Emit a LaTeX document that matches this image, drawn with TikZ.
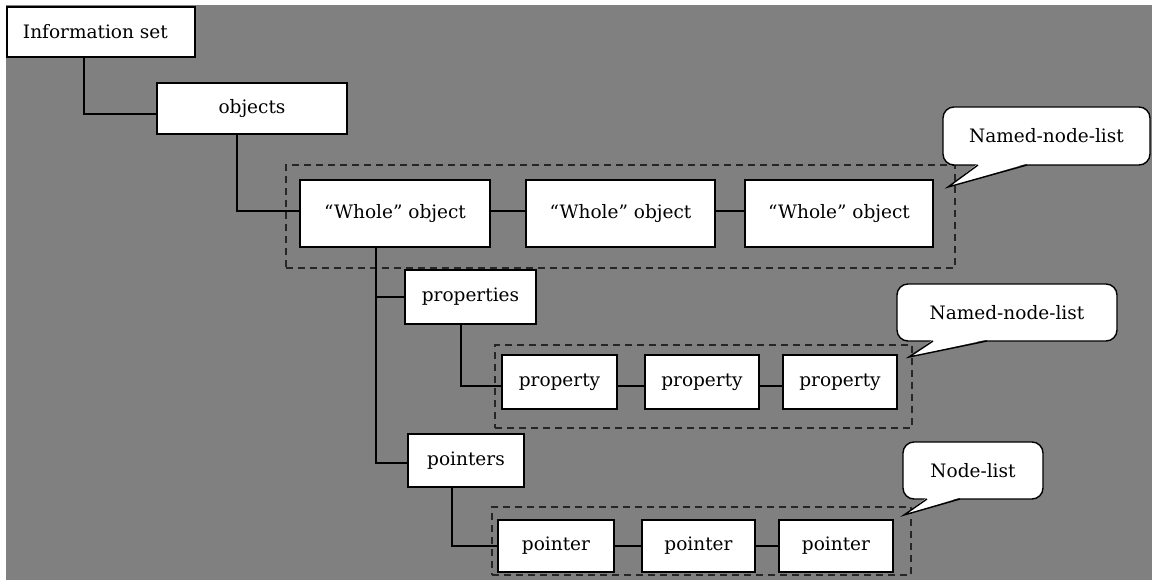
\documentclass[tikz,border=0pt]{standalone}
\usepackage{fontspec}
\setmainfont{DejaVu Serif}
\begin{document}
\begin{tikzpicture}[x=1pt,y=-1pt,
  box/.style={draw=black, fill=white, line width=1.6pt, outer sep=0pt, inner sep=0pt,
    font=\fontsize{18.5}{21}\selectfont},
  groupbox/.style={draw=black!85, dashed, dash pattern=on 7pt off 5pt, line width=1.4pt, outer sep=0pt},
  conn/.style={draw=black, line width=1.8pt},
  callout/.style={draw=black, fill=white, line width=1.4pt, rounded corners=11pt, outer sep=0pt,
    inner sep=0pt, font=\fontsize{18.5}{21}\selectfont},
  tail/.style={draw=black, line width=1.4pt, line join=miter}]
\useasboundingbox (0,0) rectangle (1152,580);
\fill[white] (0,0) rectangle (1152,580);
\fill[fill={rgb,255:red,128;green,128;blue,128}] (6,5) rectangle (1152,580);

% dashed groups
\node[groupbox, minimum width=669pt, minimum height=103pt] (g1) at (620.5,216.5) {};
\node[groupbox, minimum width=417pt, minimum height=83pt] (g2) at (703.5,386.5) {};
\node[groupbox, minimum width=419pt, minimum height=68pt] (g3) at (701.5,541) {};

% boxes
\node[box, minimum width=188pt, minimum height=50pt] (info) at (101,32) {\makebox[156pt][l]{Information set}};
\node[box, minimum width=190pt, minimum height=51pt] (objs) at (252,108.5) {objects};
\node[box, minimum width=190pt, minimum height=67pt] (w1) at (395,213.5) {“Whole” object};
\node[box, minimum width=189pt, minimum height=67pt] (w2) at (620.5,213.5) {“Whole” object};
\node[box, minimum width=188pt, minimum height=67pt] (w3) at (839,213.5) {“Whole” object};
\node[box, minimum width=131pt, minimum height=54pt] (props) at (470.5,297) {properties};
\node[box, minimum width=115pt, minimum height=54pt] (p1) at (559.5,382) {property};
\node[box, minimum width=114pt, minimum height=54pt] (p2) at (702,382) {property};
\node[box, minimum width=114pt, minimum height=54pt] (p3) at (840,382) {property};
\node[box, minimum width=116pt, minimum height=53pt] (ptrs) at (466,460.5) {pointers};
\node[box, minimum width=116pt, minimum height=52pt] (q1) at (556,546) {pointer};
\node[box, minimum width=113pt, minimum height=52pt] (q2) at (698.5,546) {pointer};
\node[box, minimum width=114pt, minimum height=52pt] (q3) at (836,546) {pointer};

% connectors
\draw[conn] ([xshift=-17pt]info.south) |- ([yshift=-5.5pt]objs.west);
\draw[conn] ([xshift=-15pt]objs.south) |- ([yshift=2.5pt]w1.west);
\draw[conn] ([yshift=2.5pt]w1.east) -- ([yshift=2.5pt]w2.west);
\draw[conn] ([yshift=2.5pt]w2.east) -- ([yshift=2.5pt]w3.west);
\coordinate (trunk) at ([xshift=-19pt]w1.south);
\draw[conn] (trunk) |- ([yshift=-2.5pt]ptrs.west);
\draw[conn] (props.west) -- (props.west -| trunk);
\draw[conn] ([xshift=-9.5pt]props.south) |- ([yshift=-4pt]p1.west);
\draw[conn] ([yshift=-4pt]p1.east) -- ([yshift=-4pt]p2.west);
\draw[conn] ([yshift=-4pt]p2.east) -- ([yshift=-4pt]p3.west);
\draw[conn] ([xshift=-14pt]ptrs.south) |- (q1.west);
\draw[conn] (q1.east) -- (q2.west);
\draw[conn] (q2.east) -- (q3.west);

% callouts
\node[callout, minimum width=207pt, minimum height=58pt] (c1) at (1046.5,136) {Named-node-list};
\coordinate (t1) at (948,187);
\fill[white] ([xshift=35pt,yshift=1.5pt]c1.south west) -- (t1) -- ([xshift=84pt,yshift=1.5pt]c1.south west) -- cycle;
\draw[tail] ([xshift=35pt]c1.south west) -- (t1) -- ([xshift=84pt]c1.south west);

\node[callout, minimum width=220pt, minimum height=57pt] (c2) at (1007,312.5) {Named-node-list};
\coordinate (t2) at (909,357);
\fill[white] ([xshift=36pt,yshift=1.5pt]c2.south west) -- (t2) -- ([xshift=90pt,yshift=1.5pt]c2.south west) -- cycle;
\draw[tail] ([xshift=36pt]c2.south west) -- (t2) -- ([xshift=90pt]c2.south west);

\node[callout, minimum width=140pt, minimum height=57pt] (c3) at (973,470.5) {Node-list};
\coordinate (t3) at (904,515);
\fill[white] ([xshift=24pt,yshift=1.5pt]c3.south west) -- (t3) -- ([xshift=57pt,yshift=1.5pt]c3.south west) -- cycle;
\draw[tail] ([xshift=24pt]c3.south west) -- (t3) -- ([xshift=57pt]c3.south west);
\end{tikzpicture}
\end{document}
